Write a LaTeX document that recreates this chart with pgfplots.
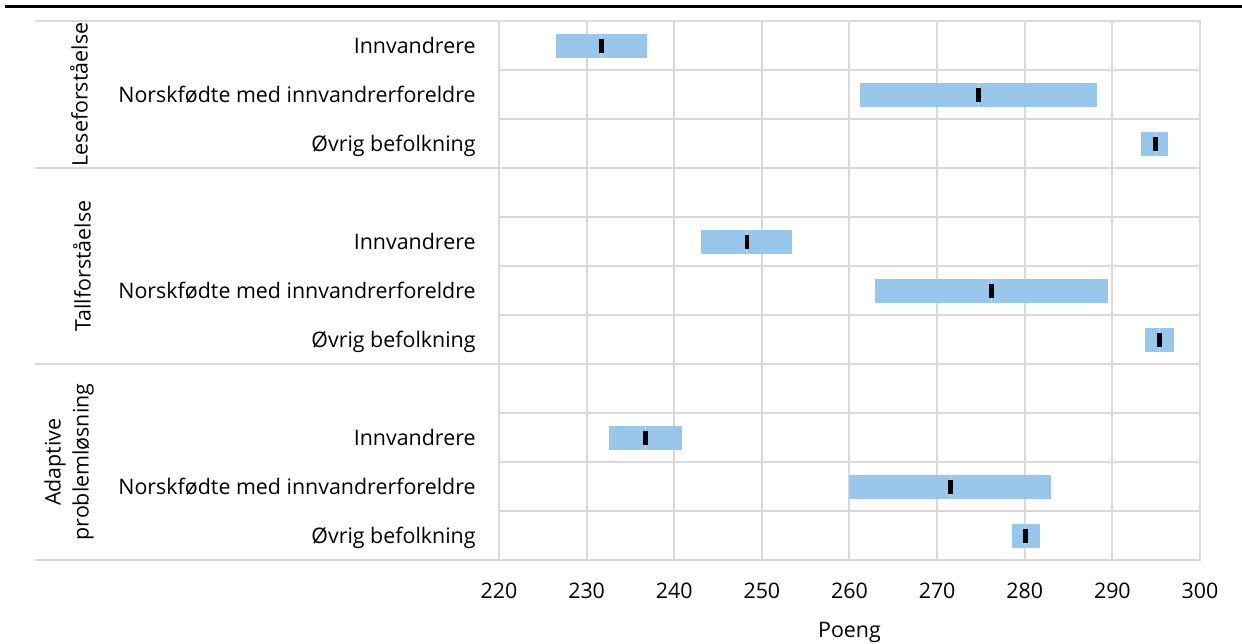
\documentclass[border=0pt]{standalone}
\usepackage{pgfplots}
\pgfplotsset{compat=1.18}
\usepackage{fontspec}
\setmainfont{Open Sans}
\definecolor{barblue}{RGB}{152,199,235}
\definecolor{barline}{RGB}{185,218,243}
\definecolor{gridgray}{RGB}{217,217,217}
\newcommand\f{\fontsize{10.7bp}{12.8bp}\selectfont}
\begin{document}
\begin{tikzpicture}
\path[use as bounding box] (-249.5bp,-42bp) rectangle (371.5bp,280bp);
\draw[black, line width=1.8bp] (-247bp,276.75bp) -- (371.5bp,276.75bp);
\begin{axis}[
  at={(0,0)}, anchor=south west,
  scale only axis, width=350.5bp, height=269.5bp,
  xmin=220, xmax=300, ymin=-0.5, ymax=10.5, y dir=reverse,
  axis line style={gridgray, line width=1bp},
  xtick={220,230,...,300},
  xticklabels={220,230,240,250,260,270,280,290,300},
  xmajorgrids, grid style={gridgray, line width=1bp},
  ytick={0,1,2,4,5,6,8,9,10},
  yticklabels={Innvandrere,Norskfødte med innvandrerforeldre,Øvrig befolkning,Innvandrere,Norskfødte med innvandrerforeldre,Øvrig befolkning,Innvandrere,Norskfødte med innvandrerforeldre,Øvrig befolkning},
  minor ytick={0.5,1.5,...,9.5}, yminorgrids,
  minor grid style={gridgray, line width=1bp},
  major tick length=0pt, minor tick length=0pt,
  tick style={draw=none},
  ticklabel style={font=\f, inner sep=0pt},
  yticklabel style={anchor=base east, xshift=-11.5bp, yshift=-3.8bp},
  xticklabel style={anchor=base, yshift=-19bp},
  xlabel={Poeng},
  xlabel style={font=\f, at={(axis description cs:0.5,0)}, anchor=base, yshift=-38.5bp, inner sep=0pt},
  clip=false,
]
% ranges (low, high)
\addplot[barblue, line width=12bp] coordinates {(226.5,0) (236.9,0)};
\addplot[barblue, line width=12bp] coordinates {(261.2,1) (288.3,1)};
\addplot[barblue, line width=12bp] coordinates {(293.3,2) (296.4,2)};
\addplot[barblue, line width=12bp] coordinates {(243.1,4) (253.4,4)};
\addplot[barblue, line width=12bp] coordinates {(262.9,5) (289.5,5)};
\addplot[barblue, line width=12bp] coordinates {(293.7,6) (297.0,6)};
\addplot[barblue, line width=12bp] coordinates {(232.5,8) (240.9,8)};
\addplot[barblue, line width=12bp] coordinates {(259.9,9) (283.0,9)};
\addplot[barblue, line width=12bp] coordinates {(278.6,10) (281.7,10)};
% thin separator at mean
\addplot[only marks, mark=|, mark size=6bp, mark options={line width=0.5bp, barline}]
  coordinates {(231.7,0) (274.7,1) (294.9,2) (248.3,4) (276.2,5) (295.4,6) (236.7,8) (271.5,9) (280.1,10)};
% means
\addplot[only marks, mark=|, mark size=2.3bp, mark options={line width=2.4bp, line cap=rect, black}]
  coordinates {(231.7,0) (274.7,1) (294.9,2) (248.3,4) (276.2,5) (295.4,6) (236.7,8) (271.5,9) (280.1,10)};
% group separators
\foreach \yy in {-0.5,2.5,6.5,10.5}{
  \edef\tmp{\noexpand\draw[gridgray, line width=1bp] ([xshift=-232bp]axis cs:220,\yy) -- (axis cs:220,\yy);}
  \tmp
}
\node[rotate=90, font=\f, anchor=center] at ([xshift=-210bp]axis cs:220,1) {Leseforståelse};
\node[rotate=90, font=\f, anchor=center] at ([xshift=-208.5bp]axis cs:220,4.5) {Tallforståelse};
\node[rotate=90, font=\fontsize{10.7bp}{14bp}\selectfont, align=center, anchor=center] at ([xshift=-215bp]axis cs:220,8.5) {Adaptive\\problemløsning};
\end{axis}
\end{tikzpicture}
\end{document}
